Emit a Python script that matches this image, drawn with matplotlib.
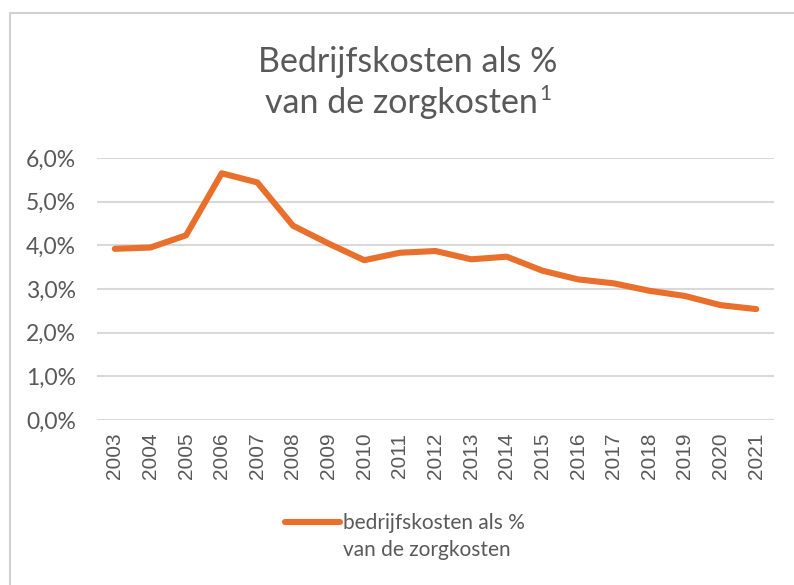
import matplotlib
matplotlib.use("Agg")
import matplotlib.pyplot as plt
from matplotlib.lines import Line2D
from matplotlib.patches import Rectangle
from matplotlib.ticker import FuncFormatter

years = ["2003", "2004", "2005", "2006", "2007", "2008", "2009", "2010", "2011", "2012",
         "2013", "2014", "2015", "2016", "2017", "2018", "2019", "2020", "2021"]
values = [3.92, 3.95, 4.23, 5.65, 5.44, 4.45, 4.04, 3.66, 3.83, 3.87,
          3.68, 3.74, 3.42, 3.22, 3.13, 2.96, 2.84, 2.63, 2.54]
yticks = [0, 1, 2, 3, 4, 5, 6]
title_line1 = "Bedrijfskosten als %"
title_line2 = "van de zorgkosten"
title_sup = "1"
legend_text = "bedrijfskosten als %\nvan de zorgkosten"

ORANGE = "#E8702C"
GREY = "#595959"
GRID = "#D9D9D9"
FONT = ["Lato", "DejaVu Sans"]

fig = plt.figure(figsize=(7.94, 5.85), dpi=100)
W, H = 794, 585

# chart border
fig.add_artist(Rectangle((10 / W, -0.2), 1.2, 1.2 - 13 / H, transform=fig.transFigure,
                         fill=False, edgecolor="#D0D0D0", linewidth=1.5))

ax = fig.add_axes([97 / W, 1 - 420 / H, (774 - 97) / W, (420 - 158) / H])
x = list(range(len(years)))
ax.plot(x, values, color=ORANGE, linewidth=4.4, solid_capstyle="round", solid_joinstyle="round", zorder=3)
ax.set_xlim(-0.5, len(years) - 0.5)
ax.set_ylim(0, 6)
ax.set_yticks(yticks)
ax.yaxis.set_major_formatter(FuncFormatter(lambda v, p: f"{v:.1f}%".replace(".", ",")))
ax.set_xticks(x)
ax.set_xticklabels(years, rotation=90, family=["Liberation Sans"], fontsize=15, color=GREY)
for lab in ax.get_yticklabels():
    lab.set_family(FONT)
    lab.set_fontsize(16.5)
    lab.set_color(GREY)
ax.tick_params(axis="y", length=0, pad=15)
ax.tick_params(axis="x", length=0, pad=9)
ax.grid(axis="y", color=GRID, linewidth=1.5)
ax.set_axisbelow(True)
for s in ax.spines.values():
    s.set_visible(False)

# title
cx = 408
fig.text(cx / W, 1 - 72 / H, title_line1, ha="center", va="baseline", fontsize=24.5,
         color=GREY, family=FONT)
renderer = fig.canvas.get_renderer()
t2 = fig.text(0, 1 - 113 / H, title_line2, ha="left", va="baseline", fontsize=24.5,
              color=GREY, family=FONT)
ts = fig.text(0, 1 - 100 / H, title_sup, ha="left", va="baseline", fontsize=15,
              color=GREY, family=FONT)
w2 = t2.get_window_extent(renderer).width
ws = ts.get_window_extent(renderer).width
left = cx - (w2 + ws + 1) / 2
t2.set_x(left / W)
ts.set_x((left + w2 + 1) / W)

fig.add_artist(Line2D([285 / W, 340 / W], [1 - 522 / H, 1 - 522 / H], transform=fig.transFigure,
                      color=ORANGE, linewidth=4.4, solid_capstyle="round"))
fig.text(343 / W, 1 - 513 / H, legend_text, ha="left", va="top", fontsize=15,
         color=GREY, family=FONT, linespacing=1.45)

fig.savefig("out.png", dpi=100, facecolor="white")
